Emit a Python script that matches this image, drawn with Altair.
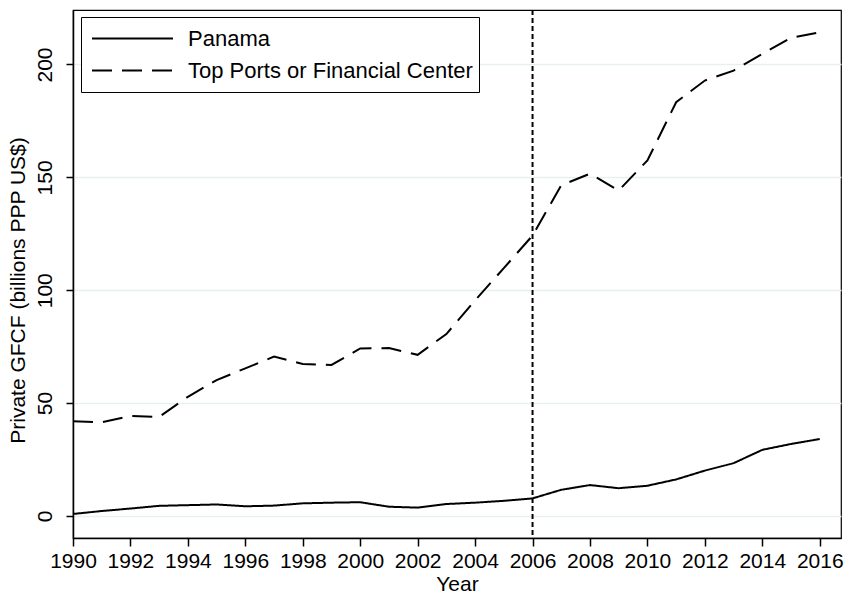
import altair as alt
import pandas as pd

years = list(range(1990, 2017))
panama = [0.9, 2.2, 3.3, 4.5, 4.8, 5.1, 4.3, 4.6, 5.6, 5.9, 6.1, 4.1, 3.7, 5.3,
          5.9, 6.7, 7.8, 11.6, 13.7, 12.3, 13.4, 16.2, 20.1, 23.4, 29.3, 31.9, 34.1]
top_ports = [42.0, 41.5, 44.3, 43.9, 52.8, 60.2, 65.4, 70.6, 67.3, 66.9, 74.2, 74.4,
             71.4, 80.6, 95.5, 109.8, 124.2, 146.5, 151.6, 144.2, 157.5, 183.3,
             192.9, 197.3, 204.7, 211.8, 214.3]
series_names = ["Panama", "Top Ports or Financial Center"]
x_ticks = list(range(1990, 2017, 2))
y_ticks = [0, 50, 100, 150, 200]
event_year = [2006]

df = pd.DataFrame({
    "Year": years * 2,
    "value": panama + top_ports,
    "series": [series_names[0]] * len(years) + [series_names[1]] * len(years),
})
vline = pd.DataFrame({"Year": event_year})

FONT = "Liberation Sans"

x_scale = alt.Scale(domain=[1990, 2016.74], nice=False, zero=False)
y_scale = alt.Scale(domain=[-9.75, 224.14], nice=False, zero=False)

lines = alt.Chart(df).mark_line(color="black", strokeWidth=2).encode(
    x=alt.X("Year:Q", scale=x_scale,
            axis=alt.Axis(values=x_ticks, format="d", title="Year", grid=False,
                          tickSize=8, labelPadding=4, titlePadding=2,
                          labelOverlap=False, labelFlush=False, labelBound=False)),
    y=alt.Y("value:Q", scale=y_scale,
            axis=alt.Axis(values=y_ticks, title="Private GFCF (billions PPP US$)",
                          grid=True, gridColor="#e8eff1", gridWidth=1.5,
                          tickSize=7, labelAngle=270, labelAlign="center",
                          labelBaseline="alphabetic", labelPadding=15,
                          labelOverlap=False, labelFlush=False,
                          titleY=280, titlePadding=6)),
    strokeDash=alt.StrokeDash(
        "series:N",
        scale=alt.Scale(domain=series_names, range=[[1, 0], [20, 10]]),
        legend=alt.Legend(title=None, orient="none", legendX=8, legendY=7,
                          symbolType="stroke", symbolSize=6561,
                          symbolStrokeWidth=2, symbolStrokeColor="black",
                          symbolOffset=4, clipHeight=31, rowPadding=1,
                          labelOffset=14, padding=6,
                          labelExpr="datum.label + '\u00a0\u00a0\u00a0'",
                          strokeColor="black", fillColor="white"),
    ),
)

rule = alt.Chart(vline).mark_rule(color="black", strokeWidth=2, strokeDash=[5, 3]).encode(
    x=alt.X("Year:Q", scale=x_scale)
)

chart = alt.layer(lines, rule).properties(
    width=768, height=528,
    autosize=alt.AutoSizeParams(type="none"),
    padding={"left": 73, "top": 10, "right": 5, "bottom": 55},
    background="white",
).configure_view(
    stroke="black", strokeWidth=1.2
).configure_axis(
    domainColor="black", domainWidth=1.5, tickColor="black", tickWidth=1.5,
    labelColor="black", titleColor="black", labelFont=FONT, titleFont=FONT,
    labelFontSize=21, titleFontSize=21, titleFontWeight="normal",
).configure_legend(
    labelFont=FONT, labelFontSize=22, labelColor="black", labelLimit=0,
)

chart.save("out.html", embed_options={"renderer": "svg", "actions": False})
